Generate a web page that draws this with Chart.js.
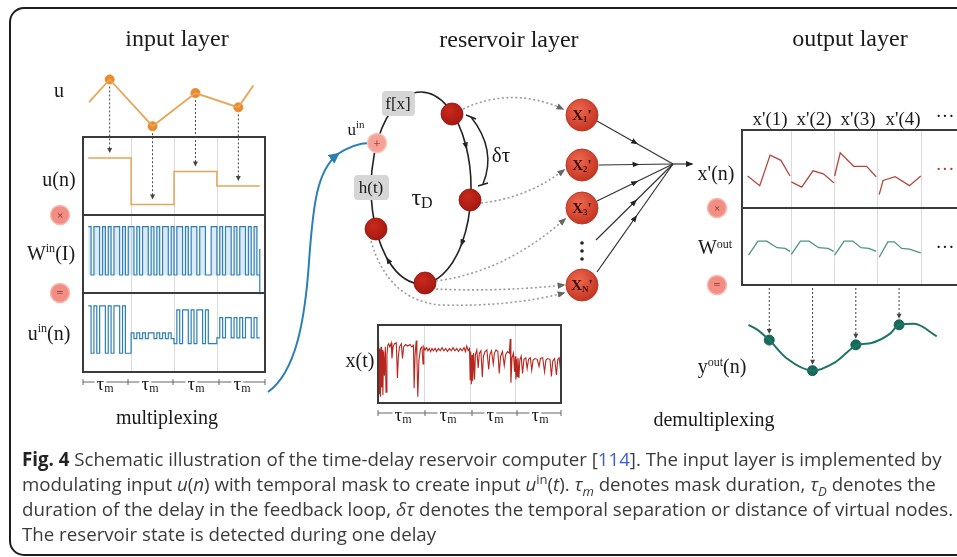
<!DOCTYPE html>
<html><head><meta charset="utf-8">
<script src="https://cdn.jsdelivr.net/npm/chart.js@4.4.1/dist/chart.umd.min.js"></script>
<style>
html,body{margin:0;padding:0;background:#fff;}
body{width:957px;height:557px;position:relative;overflow:hidden;}
.box{position:absolute;}
svg{position:absolute;left:0;top:0;}
svg text{font-family:'Liberation Serif','DejaVu Serif',serif;fill:#1a1a1a;}
#caption{position:absolute;left:22px;top:446px;font-family:'Open Sans','Noto Sans',sans-serif;font-size:18.7px;line-height:25px;color:#3b3b3b;white-space:nowrap;}
#caption sup,#caption sub{font-size:0.7em;line-height:0;}
</style></head>
<body>
<div class="box" style="left:78px;top:52px"><canvas id="cIn" width="192" height="330"></canvas></div>
<div class="box" style="left:374px;top:320px"><canvas id="cX" width="192" height="90"></canvas></div>
<div class="box" style="left:735px;top:125px"><canvas id="cOut" width="222" height="265"></canvas></div>

<svg width="957" height="557" viewBox="0 0 957 557">
<defs>
 <marker id="ahDark" markerUnits="userSpaceOnUse" markerWidth="8" markerHeight="8" viewBox="0 0 10 10" refX="8" refY="5" orient="auto"><path d="M0,1 L10,5 L0,9 z" fill="#222"/></marker>
 <marker id="ahMid" markerUnits="userSpaceOnUse" markerWidth="7" markerHeight="7" viewBox="0 0 10 10" refX="5" refY="5" orient="auto"><path d="M0,1 L10,5 L0,9 z" fill="#222"/></marker>
 <marker id="ahGray" markerUnits="userSpaceOnUse" markerWidth="8" markerHeight="8" viewBox="0 0 10 10" refX="8" refY="5" orient="auto"><path d="M0,1 L10,5 L0,9 z" fill="#666"/></marker>
 <marker id="ahBlue" markerUnits="userSpaceOnUse" markerWidth="11" markerHeight="11" viewBox="0 0 10 10" refX="8" refY="5" orient="auto"><path d="M0,0 L10,5 L0,10 z" fill="#2a7fb5"/></marker>
 <radialGradient id="gX" cx="40%" cy="35%" r="70%"><stop offset="0" stop-color="#ef6a4f"/><stop offset="1" stop-color="#c2301f"/></radialGradient>
 <radialGradient id="gN" cx="40%" cy="35%" r="70%"><stop offset="0" stop-color="#c92a1d"/><stop offset="1" stop-color="#a3170f"/></radialGradient>
</defs>
<rect x="10" y="8" width="1000" height="547" rx="14" fill="none" stroke="#1e1e1e" stroke-width="2"/>

<!-- titles -->
<text x="177" y="46" font-size="24" text-anchor="middle">input layer</text>
<text x="509" y="47" font-size="24" text-anchor="middle">reservoir layer</text>
<text x="850" y="46" font-size="24" text-anchor="middle">output layer</text>

<!-- input labels -->
<text x="59" y="97" font-size="20" text-anchor="middle">u</text>
<text x="59" y="186" font-size="20" text-anchor="middle">u(n)</text>
<circle cx="60" cy="215" r="9.5" fill="#f28d83" stroke="#f7b8b0" stroke-width="1.5"/>
<text x="60" y="219" font-size="11" text-anchor="middle" style="fill:#7a2a22">×</text>
<text x="51" y="260" font-size="20" text-anchor="middle">W<tspan font-size="12" dy="-8">in</tspan><tspan dy="8">(I)</tspan></text>
<circle cx="60" cy="293" r="9.5" fill="#f28d83" stroke="#f7b8b0" stroke-width="1.5"/>
<text x="60" y="297" font-size="12" text-anchor="middle" style="fill:#7a2a22">=</text>
<text x="49" y="340" font-size="20" text-anchor="middle">u<tspan font-size="12" dy="-8">in</tspan><tspan dy="8">(n)</tspan></text>

<!-- input tau_m axis -->
<line x1="83" y1="382" x2="265" y2="382" stroke="#666" stroke-width="1"/>
<g stroke="#666" stroke-width="1"><line x1="83" y1="379" x2="83" y2="385"/><line x1="128" y1="379" x2="128" y2="385"/><line x1="173" y1="379" x2="173" y2="385"/><line x1="219" y1="379" x2="219" y2="385"/><line x1="265" y1="379" x2="265" y2="385"/></g>
<g font-size="19" text-anchor="middle" style="paint-order:stroke;stroke:#fff;stroke-width:5px">
<text x="105" y="390">τ<tspan font-size="12" dy="2">m</tspan></text>
<text x="150" y="390">τ<tspan font-size="12" dy="2">m</tspan></text>
<text x="196" y="390">τ<tspan font-size="12" dy="2">m</tspan></text>
<text x="242" y="390">τ<tspan font-size="12" dy="2">m</tspan></text>
</g>
<text x="167" y="424" font-size="20" text-anchor="middle">multiplexing</text>

<!-- blue input curve -->
<path d="M268,392 C296,372 305,320 309,262 C313,205 317,170 338,154" fill="none" stroke="#2a7fb5" stroke-width="2" marker-end="url(#ahBlue)"/>
<path d="M336,155 C350,146 360,143 369,143" fill="none" stroke="#2a7fb5" stroke-width="2"/>

<!-- reservoir ring -->
<path d="M421,92 A50,96 0 0,1 466,146 A50,96 0 0,1 462,243 A50,96 0 0,1 388,260 A50,96 0 0,1 421,92" fill="none" stroke="#222" stroke-width="1.6" marker-mid="url(#ahMid)"/>
<text x="356" y="135" font-size="17" text-anchor="middle">u<tspan font-size="11" dy="-7">in</tspan></text>
<rect x="382" y="91" width="33" height="25" rx="4" fill="#d6d6d6"/>
<text x="398" y="109" font-size="17" text-anchor="middle">f[x]</text>
<rect x="354" y="175" width="35" height="25" rx="4" fill="#d6d6d6"/>
<text x="371" y="193" font-size="17" text-anchor="middle">h(t)</text>
<circle cx="377" cy="143" r="9.5" fill="#f4a196" stroke="#f8c2ba" stroke-width="1.5"/>
<text x="377" y="147.5" font-size="13" text-anchor="middle" style="fill:#8a2a20">+</text>
<text x="422" y="205" font-size="24" text-anchor="middle">τ<tspan font-size="16" dy="3">D</tspan></text>

<!-- delta tau -->
<path d="M471,117 Q497,150 483,184" fill="none" stroke="#222" stroke-width="1.5"/>
<path d="M466,115 L476,119 M478,186 L488,183" stroke="#222" stroke-width="1.5"/>
<text x="501" y="162" font-size="21" text-anchor="middle">δτ</text>

<!-- dashed readout arrows -->
<g fill="none" stroke="#9c9c9c" stroke-width="1.6" stroke-dasharray="2,2.5" marker-end="url(#ahGray)">
<path d="M463,109 Q512,86 563,109"/>
<path d="M481,203 Q527,198 564,170"/>
<path d="M436,281 Q505,272 565,219"/>
<path d="M436,289 Q500,292 564,285"/>
<path d="M371,241 Q388,300 440,305 Q510,307 564,293"/>
</g>

<!-- ring nodes -->
<g fill="url(#gN)" stroke="#8e140c" stroke-width="0.8">
<circle cx="452" cy="114" r="11"/>
<circle cx="470" cy="200" r="11"/>
<circle cx="425" cy="283" r="11"/>
<circle cx="376" cy="229" r="11"/>
</g>

<!-- readout nodes -->
<g fill="url(#gX)" stroke="#b53a2a" stroke-width="1">
<circle cx="582" cy="115" r="16"/>
<circle cx="582" cy="165" r="16"/>
<circle cx="582" cy="208" r="16"/>
<circle cx="582" cy="285" r="16"/>
</g>
<g font-size="15" font-weight="bold" text-anchor="middle" style="fill:#3a0e08">
<text x="582" y="120" style="fill:#3a0e08">X<tspan font-size="9" dy="2">1</tspan><tspan dy="-2">'</tspan></text>
<text x="582" y="170" style="fill:#3a0e08">X<tspan font-size="9" dy="2">2</tspan><tspan dy="-2">'</tspan></text>
<text x="582" y="213" style="fill:#3a0e08">X<tspan font-size="9" dy="2">3</tspan><tspan dy="-2">'</tspan></text>
<text x="582" y="290" style="fill:#3a0e08">X<tspan font-size="9" dy="2">N</tspan><tspan dy="-2">'</tspan></text>
</g>
<g fill="#222"><circle cx="582" cy="243" r="1.8"/><circle cx="582" cy="251" r="1.8"/><circle cx="582" cy="259" r="1.8"/></g>

<!-- converging lines -->
<g fill="none" stroke="#333" stroke-width="1.2" marker-mid="url(#ahMid)">
<path d="M597,121 L635,142.5 L673,164"/>
<path d="M599,165 L636,164.5 L673,164"/>
<path d="M597,201 L635,182.5 L673,164"/>
<path d="M596,240 L634.5,202 L673,164"/>
<path d="M597,272 L635,218 L673,164"/>
</g>
<path d="M673,164 L692,164" stroke="#333" stroke-width="1.2" marker-end="url(#ahDark)"/>

<!-- x(t) labels -->
<text x="360" y="367" font-size="20" text-anchor="middle">x(t)</text>
<line x1="378" y1="413" x2="561" y2="413" stroke="#666" stroke-width="1"/>
<g stroke="#666" stroke-width="1"><line x1="378" y1="410" x2="378" y2="416"/><line x1="425" y1="410" x2="425" y2="416"/><line x1="472" y1="410" x2="472" y2="416"/><line x1="517" y1="410" x2="517" y2="416"/><line x1="561" y1="410" x2="561" y2="416"/></g>
<g font-size="19" text-anchor="middle" style="paint-order:stroke;stroke:#fff;stroke-width:5px">
<text x="403" y="421">τ<tspan font-size="12" dy="2">m</tspan></text>
<text x="448" y="421">τ<tspan font-size="12" dy="2">m</tspan></text>
<text x="495" y="421">τ<tspan font-size="12" dy="2">m</tspan></text>
<text x="540" y="421">τ<tspan font-size="12" dy="2">m</tspan></text>
</g>

<!-- output labels -->
<g font-size="19" text-anchor="middle">
<text x="770" y="125">x'(1)</text>
<text x="814" y="125">x'(2)</text>
<text x="858" y="125">x'(3)</text>
<text x="903" y="125">x'(4)</text>
<text x="945" y="122">···</text>
</g>
<text x="945" y="175" font-size="19" text-anchor="middle" style="fill:#c0392b">···</text>
<text x="945" y="253" font-size="19" text-anchor="middle">···</text>
<text x="716" y="180" font-size="20" text-anchor="middle">x'(n)</text>
<circle cx="717" cy="208" r="9.5" fill="#f28d83" stroke="#f7b8b0" stroke-width="1.5"/>
<text x="717" y="212" font-size="11" text-anchor="middle" style="fill:#7a2a22">×</text>
<text x="715" y="254" font-size="20" text-anchor="middle">W<tspan font-size="12" dy="-6">out</tspan></text>
<circle cx="717" cy="285" r="9.5" fill="#f28d83" stroke="#f7b8b0" stroke-width="1.5"/>
<text x="717" y="289" font-size="12" text-anchor="middle" style="fill:#7a2a22">=</text>
<text x="722" y="373" font-size="20" text-anchor="middle">y<tspan font-size="12" dy="-7">out</tspan><tspan dy="7">(n)</tspan></text>
<text x="714" y="426" font-size="20" text-anchor="middle">demultiplexing</text>
</svg>

<div id="caption">
<div><b style="color:#222">Fig. 4</b> Schematic illustration of the time-delay reservoir computer [<span style="color:#3d5bd9">114</span>]. The input layer is implemented by</div>
<div>modulating input <i>u</i>(<i>n</i>) with temporal mask to create input <i>u</i><sup>in</sup>(<i>t</i>). <i>τ<sub>m</sub></i> denotes mask duration, <i>τ<sub>D</sub></i> denotes the</div>
<div>duration of the delay in the feedback loop, <i>δτ</i> denotes the temporal separation or distance of virtual nodes.</div>
<div>The reservoir state is detected during one delay</div>
</div>

<script>
// ---------- data ----------
const uTimes = [0.52, 1, 2, 3, 4, 4.35];
const uValues = [0.46, 0.76, 0.14, 0.58, 0.39, 0.68];
const sampleIndex = [1, 2, 3, 4];
const uSamples = [0.76, 0.14, 0.58, 0.39];
const unLevels = [0.756, 0.141, 0.577, 0.385];
const maskBits = [1,0,1,1,0,1,0,1,0,1,1,0,1,0,1,
                  1,0,1,0,1,1,0,1,0,1,0,1,1,0,1,
                  0,1,1,0,1,0,1,1,0,1,1,0,0,1,1,
                  0,1,0,1,1,0,1,0,1,1,0,1,0,1,0];
const maskTail = [0.54, -0.4];
const uinValues = [0.75,-0.78,0.75,-0.78,0.75,0.75,-0.78,0.75,-0.78,0.75,0.75,-0.78,0.75,-0.78,-0.78,
                   -0.12,-0.31,-0.12,-0.31,-0.12,-0.31,-0.12,-0.12,-0.31,-0.12,-0.31,-0.12,-0.31,-0.12,-0.31,
                   -0.47,0.62,-0.47,0.62,0.62,-0.47,0.62,-0.47,0.62,0.62,-0.47,0.62,-0.47,-0.47,-0.47,
                   -0.28,0.37,-0.28,0.37,0.37,-0.28,0.37,-0.28,0.37,-0.28,0.37,0.37,-0.28,0.37,-0.28];
const xtTimes = [0.000,0.010,0.018,0.028,0.040,0.052,0.066,0.078,0.092,0.106,0.122,0.140,0.160,0.175,0.195,0.215,0.235,0.260,0.290,0.305,0.330,0.360,0.400,0.425,0.445,0.470,0.510,0.535,0.560,0.600,0.650,0.700,0.740,0.775,0.790,0.810,0.835,0.850,0.870,0.895,0.930,0.960,0.985,
  1.00,1.03,1.06,1.09,1.12,1.15,1.18,1.21,1.25,1.28,1.32,1.36,1.40,1.44,1.48,1.52,1.56,1.60,1.64,1.68,1.72,1.76,1.80,1.84,1.88,1.91,1.94,1.97,
  2.000,2.015,2.025,2.040,2.055,2.070,2.090,2.110,2.130,2.160,2.190,2.215,2.250,2.280,2.305,2.340,2.380,2.420,2.445,2.480,2.520,2.545,2.580,2.620,2.650,2.680,2.720,2.760,2.790,2.830,2.870,2.890,2.905,2.930,2.960,2.985,
  3.000,3.015,3.030,3.045,3.060,3.080,3.100,3.130,3.160,3.190,3.230,3.260,3.290,3.330,3.360,3.390,3.430,3.480,3.520,3.550,3.600,3.640,3.670,3.710,3.760,3.790,3.820,3.860,3.900,3.930,3.960,3.985,4.000];
const xtValues = [0.79,0.40,0.74,0.12,0.70,0.08,0.72,0.20,0.68,0.10,0.66,0.35,0.72,0.14,0.62,0.74,0.76,0.72,0.77,0.57,0.72,0.76,0.77,0.32,0.60,0.72,0.76,0.57,0.72,0.75,0.73,0.75,0.72,0.74,0.19,0.62,0.80,0.60,0.08,0.55,0.70,0.72,0.50,
  0.72,0.68,0.71,0.67,0.70,0.66,0.70,0.67,0.70,0.66,0.70,0.67,0.71,0.67,0.70,0.66,0.70,0.67,0.71,0.67,0.70,0.66,0.70,0.67,0.71,0.66,0.73,0.67,
  0.70,0.30,0.66,0.24,0.62,0.28,0.64,0.30,0.62,0.68,0.45,0.64,0.67,0.33,0.60,0.66,0.68,0.43,0.62,0.67,0.50,0.64,0.68,0.66,0.38,0.60,0.66,0.48,0.62,0.66,0.64,0.82,0.26,0.58,0.64,0.40,
  0.60,0.30,0.56,0.34,0.58,0.32,0.55,0.60,0.38,0.56,0.58,0.44,0.56,0.58,0.42,0.55,0.57,0.56,0.47,0.57,0.58,0.40,0.55,0.57,0.56,0.34,0.54,0.57,0.36,0.56,0.58,0.45,0.52];
const xpTimes = [0.00,0.28,0.52,0.77,0.98, 1.0, 1.01,1.25,1.51,1.75,1.99, 2.0, 2.01,2.14,2.45,2.75,2.97, 3.0, 3.04,3.13,3.41,3.74,4.00];
const xpValues = [0.46,0.33,0.74,0.67,0.46, null, 0.38,0.31,0.53,0.49,0.37, null, 0.46,0.77,0.59,0.59,0.45, null, 0.21,0.40,0.45,0.33,0.46];
const woutTimes = [0.02,0.24,0.44,0.68,0.87,0.98, 1.0, 1.01,1.22,1.42,1.64,1.86,1.99, 2.0, 2.01,2.23,2.43,2.62,2.80,2.97, 3.0, 3.04,3.24,3.39,3.56,3.74,4.00];
const woutValues = [0.39,0.58,0.58,0.49,0.48,0.44, null, 0.40,0.58,0.58,0.49,0.48,0.44, null, 0.39,0.58,0.58,0.49,0.48,0.44, null, 0.36,0.57,0.57,0.48,0.47,0.42];
const youtTimes = [0.02,0.22,0.50,0.90,1.51,2.03,2.54,2.86,3.30,3.50,3.85,4.37];
const youtValues = [1.04,0.94,0.72,0.34,0.08,0.26,0.62,0.66,0.86,1.04,1.06,0.80];
const youtSampleTimes = [0.5, 1.5, 2.5, 3.5];
const youtSamples = [0.72, 0.08, 0.62, 1.04];

// ---------- helpers ----------
function fit(vA, pA, vB, pB, size) {
  const k = (vB - vA) / (pB - pA);
  const a = vA - pA * k, b = vA + (size - pA) * k;
  return { min: Math.min(a, b), max: Math.max(a, b) };
}
function lin(r, axis) { return { type: 'linear', axis: axis, display: false, min: r.min, max: r.max }; }
function pts(xs, ys) { return xs.map((x, i) => ({ x: x, y: ys[i] })); }
function opts(scales) {
  return { responsive: false, animation: false, events: [], layout: { padding: 0 },
    plugins: { legend: { display: false }, tooltip: { enabled: false } }, scales: scales };
}
function arrowDown(ctx, x, y0, y1, color) {
  ctx.save();
  ctx.strokeStyle = color; ctx.lineWidth = 1; ctx.setLineDash([2, 2]);
  ctx.beginPath(); ctx.moveTo(x, y0); ctx.lineTo(x, y1 - 4); ctx.stroke();
  ctx.setLineDash([]); ctx.fillStyle = color;
  ctx.beginPath(); ctx.moveTo(x - 2.5, y1 - 5); ctx.lineTo(x + 2.5, y1 - 5); ctx.lineTo(x, y1); ctx.closePath(); ctx.fill();
  ctx.restore();
}
function separators(chart, values, yTop, yBot) {
  const ctx = chart.ctx, xs = chart.scales.x;
  ctx.save(); ctx.strokeStyle = '#dadada'; ctx.lineWidth = 1;
  values.forEach(v => { const p = Math.round(xs.getPixelForValue(v)) + 0.5;
    ctx.beginPath(); ctx.moveTo(p, yTop); ctx.lineTo(p, yBot); ctx.stroke(); });
  ctx.restore();
}
function frame(ctx, l, t, r, b, dividers) {
  ctx.save(); ctx.strokeStyle = '#3a3a3a'; ctx.lineWidth = 2;
  ctx.strokeRect(l, t, r - l, b - t);
  dividers.forEach(y => { ctx.beginPath(); ctx.moveTo(l, y); ctx.lineTo(r, y); ctx.stroke(); });
  ctx.restore();
}

// ---------- input layer ----------
const IN = { left: 78, top: 52, w: 192, h: 330 };
const inFrame = { l: 83, r: 265, t: 137, d1: 215, d2: 293, b: 372 };
const maskData = maskBits.map((b, i) => ({ x: 0.5 + i * 4 / maskBits.length, y: b }))
  .concat([{ x: 4.5, y: maskBits[maskBits.length - 1] }], maskTail.map(v => ({ x: 4.5, y: v })));
const uinData = uinValues.map((v, i) => ({ x: 0.5 + i * 4 / uinValues.length, y: v }))
  .concat([{ x: 4.5, y: uinValues[uinValues.length - 1] }]);
const unData = unLevels.map((v, i) => ({ x: sampleIndex[i] - 0.5, y: v }))
  .concat([{ x: 4.5, y: unLevels[unLevels.length - 1] }]);

new Chart(document.getElementById('cIn'), {
  type: 'line',
  data: { datasets: [
    { data: pts(uTimes, uValues), xAxisID: 'x', yAxisID: 'yu', borderColor: '#eaa455', borderWidth: 1.8, pointRadius: 0, tension: 0 },
    { data: pts(sampleIndex, uSamples), xAxisID: 'x', yAxisID: 'yu', showLine: false, pointRadius: 4.5, pointBackgroundColor: '#ea8a2e', pointBorderColor: '#ea8a2e' },
    { data: unData, xAxisID: 'x', yAxisID: 'yn', stepped: 'before', borderColor: '#e3a75a', borderWidth: 1.5, pointRadius: 0 },
    { data: maskData, xAxisID: 'x', yAxisID: 'yw', stepped: 'before', borderColor: '#2c7fb8', borderWidth: 1.2, pointRadius: 0,
      fill: 'origin', backgroundColor: 'rgba(110,170,215,0.25)' },
    { data: uinData, xAxisID: 'x', yAxisID: 'yi', stepped: 'before', borderColor: '#2c7fb8', borderWidth: 1.2, pointRadius: 0 }
  ] },
  options: opts({
    x: lin(fit(0.5, inFrame.l - IN.left, 4.5, inFrame.r - IN.left, IN.w), 'x'),
    yu: lin(fit(1, 56 - IN.top, 0, 134 - IN.top, IN.h), 'y'),
    yn: lin(fit(1, inFrame.t - IN.top, 0, inFrame.d1 - IN.top, IN.h), 'y'),
    yw: lin(fit(1, 227 - IN.top, 0, 277 - IN.top, IN.h), 'y'),
    yi: lin(fit(1, 301 - IN.top, 0, 333 - IN.top, IN.h), 'y')
  }),
  plugins: [{
    id: 'inDeco',
    beforeDatasetsDraw(chart) { separators(chart, [1.5, 2.5, 3.5], inFrame.t - IN.top, inFrame.b - IN.top); },
    afterDatasetsDraw(chart) {
      frame(chart.ctx, inFrame.l - IN.left, inFrame.t - IN.top, inFrame.r - IN.left, inFrame.b - IN.top,
        [inFrame.d1 - IN.top, inFrame.d2 - IN.top]);
      const xs = chart.scales.x, yu = chart.scales.yu, yn = chart.scales.yn;
      sampleIndex.forEach((n, i) => {
        arrowDown(chart.ctx, xs.getPixelForValue(n), yu.getPixelForValue(uSamples[i]) + 7, yn.getPixelForValue(unLevels[i]) - 5, '#444');
      });
    }
  }]
});

// ---------- reservoir state x(t) ----------
const XT = { left: 374, top: 320, w: 192, h: 90 };
const xtFrame = { l: 378, r: 561, t: 325, b: 403 };
new Chart(document.getElementById('cX'), {
  type: 'line',
  data: { datasets: [
    { data: pts(xtTimes, xtValues), xAxisID: 'x', yAxisID: 'y', borderColor: '#b8261e', borderWidth: 1.1, pointRadius: 0, tension: 0 }
  ] },
  options: opts({
    x: lin(fit(0, xtFrame.l - XT.left, 4, xtFrame.r - XT.left, XT.w), 'x'),
    y: lin(fit(1, xtFrame.t - XT.top, 0, xtFrame.b - XT.top, XT.h), 'y')
  }),
  plugins: [{
    id: 'xtDeco',
    beforeDatasetsDraw(chart) { separators(chart, [1, 2, 3], xtFrame.t - XT.top, xtFrame.b - XT.top); },
    afterDatasetsDraw(chart) { frame(chart.ctx, xtFrame.l - XT.left, xtFrame.t - XT.top, xtFrame.r - XT.left, xtFrame.b - XT.top, []); }
  }]
});

// ---------- output layer ----------
const OUT = { left: 735, top: 125, w: 222, h: 265 };
const outFrame = { l: 742, r: 970, t: 130, d1: 208, b: 285 };
new Chart(document.getElementById('cOut'), {
  type: 'line',
  data: { datasets: [
    { data: pts(xpTimes, xpValues), xAxisID: 'x', yAxisID: 'yx', borderColor: '#b5473e', borderWidth: 1.3, pointRadius: 0, spanGaps: false, tension: 0 },
    { data: pts(woutTimes, woutValues), xAxisID: 'x', yAxisID: 'yw', borderColor: '#4a9483', borderWidth: 1.3, pointRadius: 0, spanGaps: false, tension: 0 },
    { data: pts(youtTimes, youtValues), xAxisID: 'x', yAxisID: 'yo', borderColor: '#1f7565', borderWidth: 2, pointRadius: 0, cubicInterpolationMode: 'monotone' },
    { data: pts(youtSampleTimes, youtSamples), xAxisID: 'x', yAxisID: 'yo', showLine: false, pointRadius: 5, pointBackgroundColor: '#17695a', pointBorderColor: '#17695a' }
  ] },
  options: opts({
    x: lin(fit(0, outFrame.l - OUT.left, 1, 787.75 - OUT.left, OUT.w), 'x'),
    yx: lin(fit(1, outFrame.t - OUT.top, 0, outFrame.d1 - OUT.top, OUT.h), 'y'),
    yw: lin(fit(1, outFrame.d1 - OUT.top, 0, outFrame.b - OUT.top, OUT.h), 'y'),
    yo: lin(fit(0, 380 - OUT.top, 1, 330 - OUT.top, OUT.h), 'y')
  }),
  plugins: [{
    id: 'outDeco',
    beforeDatasetsDraw(chart) { separators(chart, [1, 2, 3, 4], outFrame.t - OUT.top, outFrame.b - OUT.top); },
    afterDatasetsDraw(chart) {
      frame(chart.ctx, outFrame.l - OUT.left, outFrame.t - OUT.top, outFrame.r - OUT.left, outFrame.b - OUT.top, [outFrame.d1 - OUT.top]);
      const xs = chart.scales.x, yo = chart.scales.yo;
      youtSampleTimes.forEach((t, i) => {
        arrowDown(chart.ctx, xs.getPixelForValue(t), outFrame.b - OUT.top + 3, yo.getPixelForValue(youtSamples[i]) - 6, '#444');
      });
    }
  }]
});
</script>
</body></html>
